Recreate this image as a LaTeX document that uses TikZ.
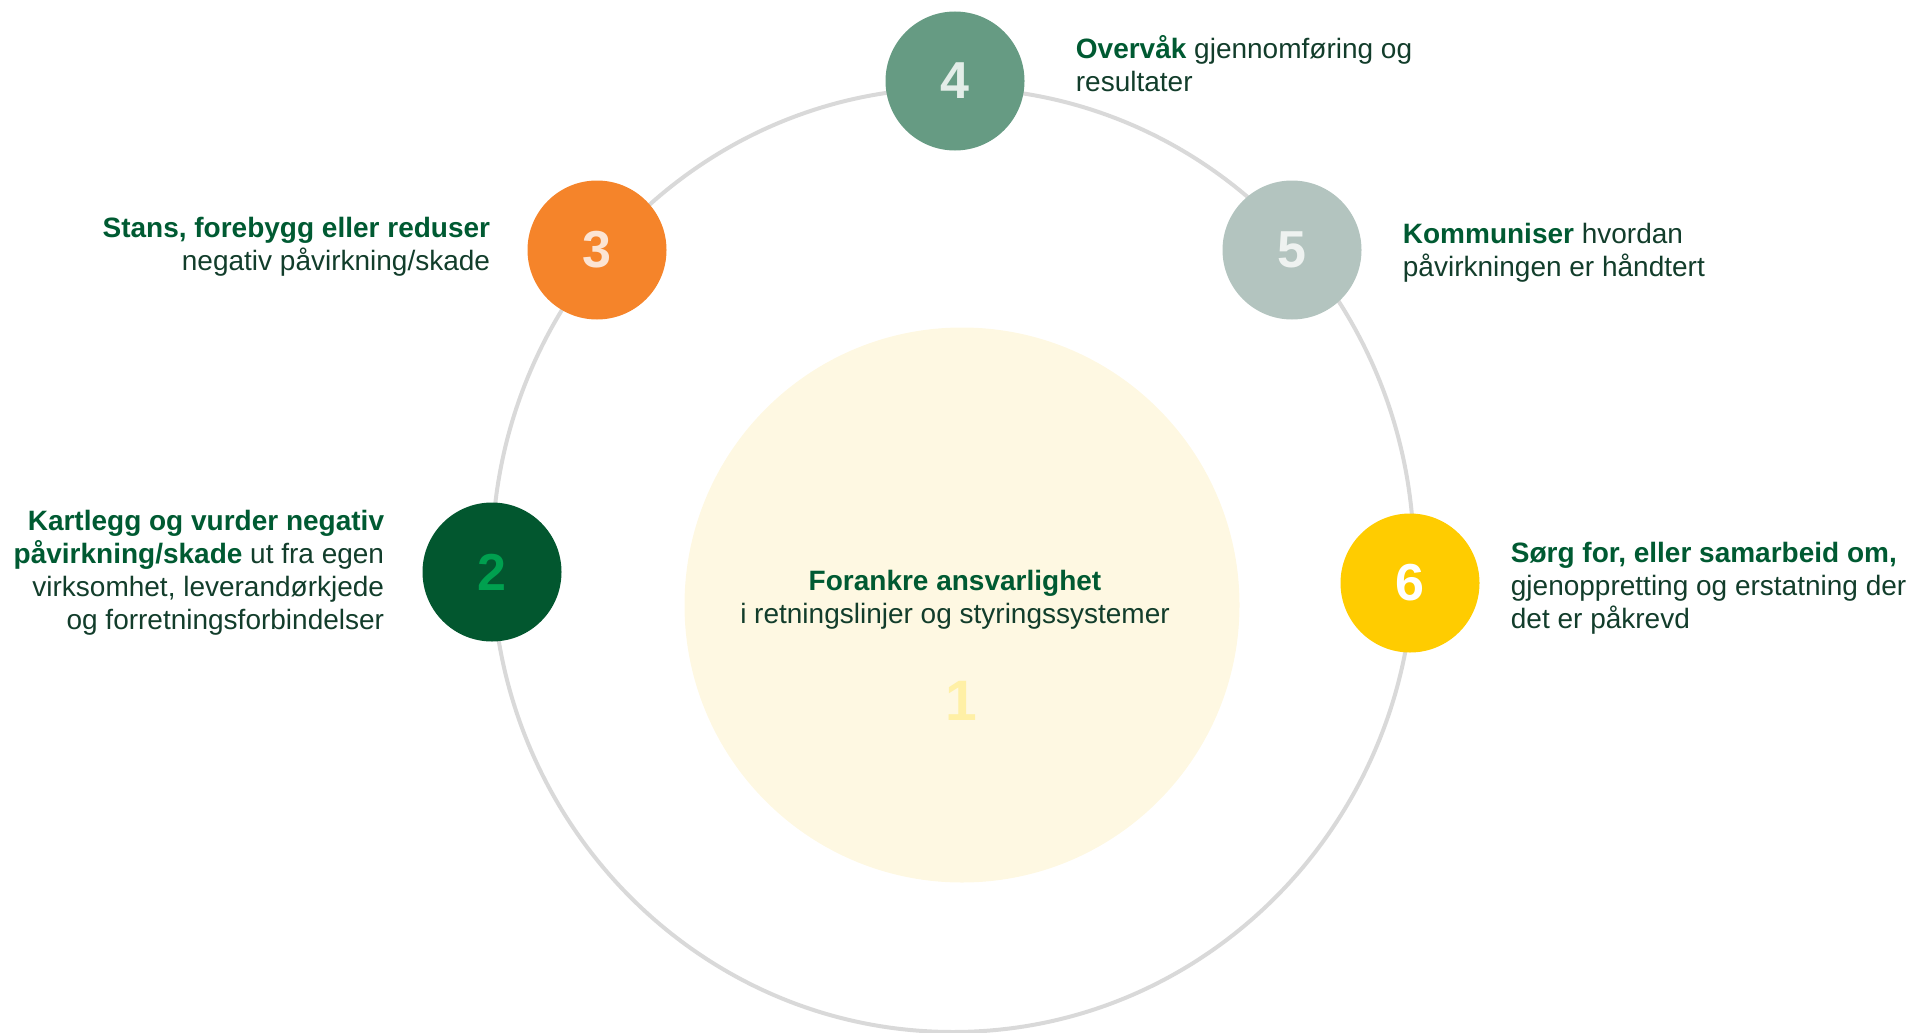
\documentclass[tikz,border=0pt]{standalone}
\usepackage{fontspec}
\setmainfont{Liberation Sans}
\usetikzlibrary{positioning}
\definecolor{RingGray}{HTML}{D9D9D9}
\definecolor{TextGreen}{HTML}{005A32}
\definecolor{TextDark}{HTML}{123D2B}
\definecolor{PaleYellow}{HTML}{FEF8E2}
\definecolor{OneYellow}{HTML}{FFF0A6}
\definecolor{DeepGreen}{HTML}{02572F}
\definecolor{TwoGreen}{HTML}{00A04F}
\definecolor{StopOrange}{HTML}{F5842A}
\definecolor{ThreePeach}{HTML}{FCE4D3}
\definecolor{SageGreen}{HTML}{669B83}
\definecolor{FourSage}{HTML}{E3EDE8}
\definecolor{MistGray}{HTML}{B3C4BF}
\definecolor{FiveMist}{HTML}{EEF2F0}
\definecolor{SunYellow}{HTML}{FFCC00}
\tikzstyle{stage} = [shape=circle,minimum size=139pt,inner sep=0pt,font=\fontsize{52}{60}\selectfont\bfseries]
\tikzstyle{stagetext} = [inner sep=0pt,text=TextDark,font=\fontsize{28}{33}\selectfont]
\tikzstyle{ring} = [color=RingGray,line width=4pt]
\newcommand{\keyword}[1]{{\bfseries\color{TextGreen}#1}}

\begin{document}
\begin{tikzpicture}[x=1pt,y=-1pt]
	\useasboundingbox (0,0) rectangle (1911,1033);
	
	\draw[ring] (953,560) ellipse [x radius=461,y radius=472];
	
	\node[stage,minimum size=555pt,fill=PaleYellow] (c1) at (962,605) {};
	\node[stage,fill=DeepGreen,text=TwoGreen] (c2) at (492,572) {2};
	\node[stage,fill=StopOrange,text=ThreePeach] (c3) at (597,250) {3};
	\node[stage,fill=SageGreen,text=FourSage] (c4) at (955,81) {4};
	\node[stage,fill=MistGray,text=FiveMist] (c5) at (1292,250) {5};
	\node[stage,fill=SunYellow,text=white] (c6) at (1410,583) {6};
	
	% centre
	\node[stagetext,align=center] (t1) at (955,599.5) {\keyword{Forankre ansvarlighet}\\i retningslinjer og styringssystemer};
	\node[text=OneYellow,font=\fontsize{57}{64}\selectfont\bfseries] (n1) at (961,701) {1};
	
	% left side
	\node[stagetext,align=right,left=38pt of c2,yshift=-1pt] (t2) {\keyword{Kartlegg og vurder negativ}\\\keyword{påvirkning/skade} ut fra egen\\virksomhet, leverandørkjede\\og forretningsforbindelser};
	\node[stagetext,align=right,left=37pt of c3,yshift=3.5pt] (t3) {\keyword{Stans, forebygg eller reduser}\\negativ påvirkning/skade};
	
	% right side
	\node[stagetext,align=left,right=51pt of c4,yshift=17.5pt] (t4) {\keyword{Overvåk} gjennomføring og\\resultater};
	\node[stagetext,align=left,right=41pt of c5,yshift=-2.5pt] (t5) {\keyword{Kommuniser} hvordan\\påvirkningen er håndtert};
	\node[stagetext,align=left,right=31pt of c6,yshift=-5pt] (t6) {\keyword{Sørg for, eller samarbeid om,}\\gjenoppretting og erstatning der\\det er påkrevd};
\end{tikzpicture}
\end{document}
